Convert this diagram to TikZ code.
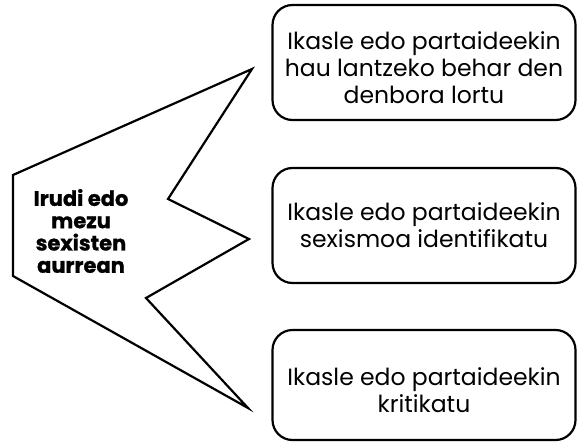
\documentclass[tikz,border=0pt]{standalone}
\usepackage{fontspec}
\setmainfont{Poppins}
\usetikzlibrary{positioning}

\begin{document}
\begin{tikzpicture}[x=1pt, y=1pt, line width=2.2pt, line join=miter,
    answerbox/.style={draw, rounded corners=20pt, minimum width=303pt,
      align=center, font=\fontsize{23.5}{27}\selectfont, inner sep=0pt},
    sourcetext/.style={align=center,
      font=\fontsize{21}{22.3}\selectfont\bfseries\addfontfeatures{FakeBold=1}}]
  \useasboundingbox (0,0) rectangle (577,442);
  % the three boxes on the right
  \node[answerbox, minimum height=115pt] (lortu) at (424,379.5)
    {\\[2pt]Ikasle edo partaideekin\\hau lantzeko behar den\\denbora lortu};
  \node[answerbox, minimum height=115pt] (identifikatu) at (424,216.5)
    {Ikasle edo partaideekin\\sexismoa identifikatu};
  \node[answerbox, minimum height=110pt] (kritikatu) at (424,57)
    {\\[2pt]Ikasle edo partaideekin\\kritikatu};
  % the pointed shape on the left
  \coordinate (tipA) at (252,373);
  \coordinate (tipB) at (249,203);
  \coordinate (tipC) at (248,34);
  \draw (13,267) -- (tipA) -- (168,243) -- (tipB) -- (146,144)
    -- (tipC) -- (13,166) -- cycle;
  \node[sourcetext] (irudi) at (81,211) {Irudi edo\\mezu\\sexisten\\aurrean};
\end{tikzpicture}
\end{document}
